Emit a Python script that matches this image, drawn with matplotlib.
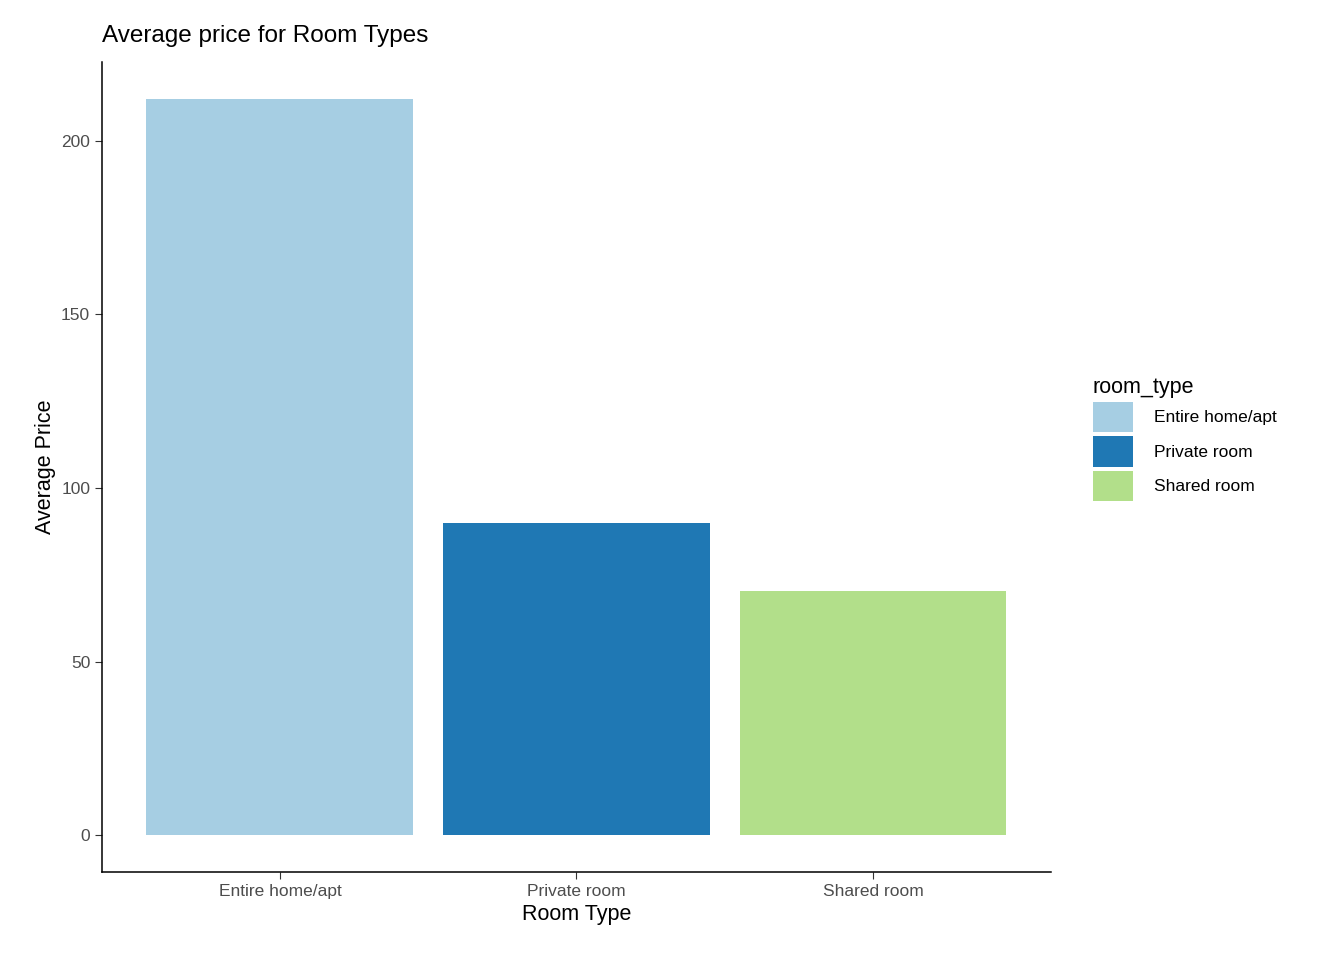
import matplotlib
matplotlib.use("Agg")
import matplotlib.pyplot as plt
from matplotlib.patches import Patch

room_types = ["Entire home/apt", "Private room", "Shared room"]
avg_price = [212.1, 89.9, 70.4]
colors = ["#A6CEE3", "#1F78B4", "#B2DF8A"]
y_ticks = [0, 50, 100, 150, 200]

plt.rcParams["font.family"] = ["Liberation Sans", "DejaVu Sans"]

fig = plt.figure(figsize=(13.44, 9.6), dpi=100)
ax = fig.add_axes([0.0759, 0.0917, 0.706, 0.844])

x = list(range(len(room_types)))
ax.bar(x, avg_price, width=0.9, color=colors)
ax.set_xlim(-0.6, 2.6)
ax.set_ylim(-10.6, 222.7)
ax.set_xticks(x)
ax.set_xticklabels(room_types)
ax.set_yticks(y_ticks)
ax.tick_params(labelsize=12.5, labelcolor="#4D4D4D", length=5, color="#333333")
for s in ["top", "right"]:
    ax.spines[s].set_visible(False)
for s in ["left", "bottom"]:
    ax.spines[s].set_linewidth(1.1)

ax.set_xlabel("Room Type", fontsize=15.5)
ax.set_ylabel("Average Price", fontsize=15.5)
ax.set_title("Average price for Room Types", fontsize=17.5, loc="left", x=0.0, pad=14)

handles = [Patch(facecolor=c, label=r) for c, r in zip(colors, room_types)]
leg = fig.legend(handles=handles, title="room_type", loc="upper left",
                 bbox_to_anchor=(0.808, 0.615), frameon=False, fontsize=12.5,
                 title_fontsize=15.5, handlelength=2.3, handleheight=2.3,
                 handletextpad=1.2, labelspacing=0.25, borderaxespad=0)
leg._legend_box.align = "left"

fig.savefig("out.png", dpi=100)
